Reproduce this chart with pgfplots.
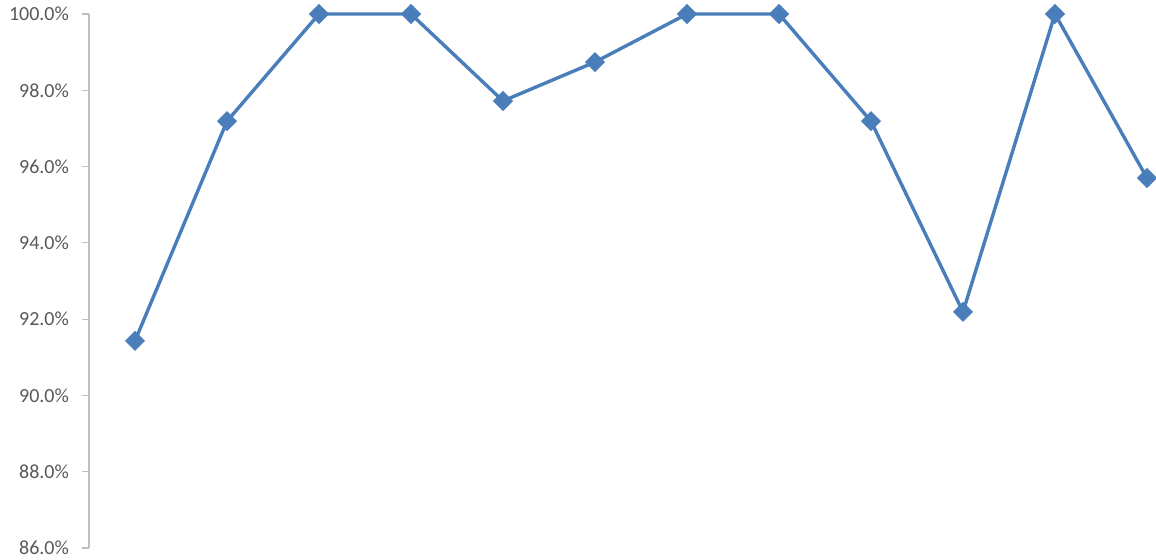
\documentclass[border=0pt]{standalone}
\usepackage{pgfplots}
\pgfplotsset{compat=1.18}
\usepackage{fontspec}
\setmainfont{Carlito}
\definecolor{serie}{RGB}{74,126,187}
\definecolor{axegris}{RGB}{191,191,191}
\definecolor{texte}{RGB}{89,89,89}
\begin{document}
\begin{tikzpicture}
% 1 px of the reference = 0.5pt
\useasboundingbox (-44.5pt,-5.5pt) rectangle (533.5pt,274pt);
\begin{axis}[
    at={(0,0)}, anchor=south west,
    scale only axis,
    width=533.5pt, height=267pt,
    xmin=0.5, xmax=12.098,
    ymin=86, ymax=100,
    clip=false,
    hide x axis,
    axis y line*=left,
    y axis line style={draw=axegris, line width=0.6pt},
    ytick={86,88,...,100},
    yticklabel={\pgfmathprintnumber[fixed,fixed zerofill,precision=1]{\tick}\%},
    /pgf/number format/assume math mode=true,
    tick align=outside,
    major tick length=3.5pt,
    y tick style={draw=axegris, line width=0.6pt},
    yticklabel style={font=\fontsize{10pt}{12pt}\selectfont, text=texte, xshift=-3pt},
]
\addplot[serie, line width=1.7pt, mark=square*, mark size=3.3pt,
    mark options={rotate=45, line width=0.5pt, fill=serie, draw=serie}]
    coordinates {
    (1,91.43) (2,97.19) (3,100) (4,100) (5,97.72) (6,98.74)
    (7,100) (8,100) (9,97.19) (10,92.19) (11,100) (12,95.70)
    };
\end{axis}
\end{tikzpicture}
\end{document}
